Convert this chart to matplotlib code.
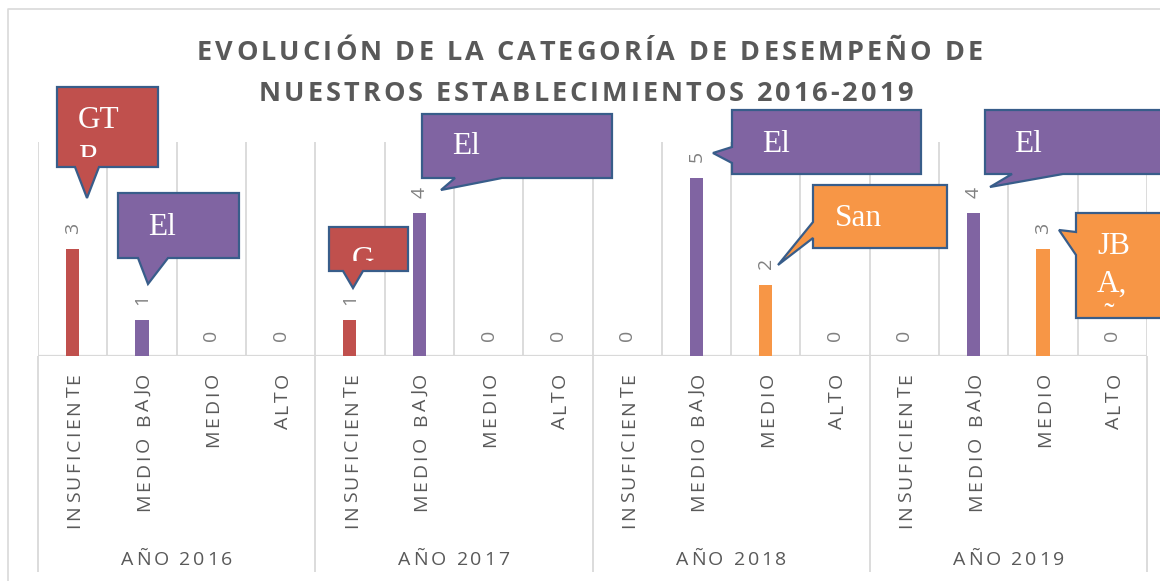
"""
Category chart of school performance levels per year, with callouts.

Writes:   out.png
"""

import matplotlib

matplotlib.use("Agg")
import matplotlib.pyplot as plt
import numpy as np
from matplotlib.font_manager import FontProperties, findfont, get_font
from matplotlib.patches import Polygon
from matplotlib.transforms import Bbox, IdentityTransform

W, H = 1160, 581

years = ["AÑO 2016", "AÑO 2017", "AÑO 2018", "AÑO 2019"]
levels = ["INSUFICIENTE", "MEDIO BAJO", "MEDIO", "ALTO"]
counts_2016 = [3, 1, 0, 0]
counts_2017 = [1, 4, 0, 0]
counts_2018 = [0, 5, 2, 0]
counts_2019 = [0, 4, 3, 0]
level_colors = ["#C0504D", "#8064A2", "#F79646", "#9BBB59"]

title_lines = ["EVOLUCIÓN DE LA CATEGORÍA DE DESEMPEÑO DE",
               "NUESTROS ESTABLECIMIENTOS 2016-2019"]

# callout texts (cut off by their boxes, as in the original)
callout_texts = ["GT\nR", "El", "G", "El", "El", "San", "El", "JB\nA,\nÑ"]
callout_colors = ["#C0504D", "#8064A2", "#C0504D", "#8064A2",
                  "#8064A2", "#F79646", "#8064A2", "#F79646"]
# geometry in image pixels (y down): box, wedge points, edge, first baseline
callout_boxes = [(57, 87, 158, 167), (118, 193, 239, 258), (329, 227, 408, 271),
                 (422, 114, 612, 178), (732, 110, 921, 174), (813, 185, 947, 248),
                 (985, 110, 1175, 174), (1076, 213, 1175, 318)]
callout_wedges = [[(99, 167), (87, 198), (75, 167)],
                  [(168, 258), (148, 284), (138, 258)],
                  [(363, 271), (353, 288), (343, 271)],
                  [(502, 178), (441, 190), (455, 178)],
                  [(732, 163), (713, 153), (732, 147)],
                  [(813, 238), (778, 265), (813, 222)],
                  [(1063, 174), (990, 187), (1012, 174)],
                  [(1076, 255), (1059, 230), (1076, 232)]]
callout_edges = ["bottom", "bottom", "bottom", "bottom", "left", "left", "bottom", "left"]
callout_text_xy = [(78, 128), (148, 235), (352, 268), (452, 154),
                   (762, 152), (835, 226), (1014, 152), (1097, 254)]

SANS = ["Open Sans", "DejaVu Sans"]
GRID = "#D9D9D9"
TEXT = "#595959"


def advances(s, size, weight="normal"):
    fp = FontProperties(family=SANS, size=size, weight=weight)
    font = get_font(findfont(fp))
    font.set_size(size, 100)
    return [font.load_char(ord(c)).linearHoriAdvance / 65536 for c in s]


def tracking_for(s, span, size, weight="normal"):
    return (span - sum(advances(s, size, weight))) / (len(s) - 1)


def tracked(fig, x, y, s, size, track, color, weight="normal", vertical=False):
    """Letter-spaced text. Horizontal: x is centre, y baseline (image px).
    Vertical: x is centre, y is the top end of the text (image px)."""
    adv = advances(s, size, weight)
    total = sum(adv) + track * (len(s) - 1)
    cap = 0.714 * size * 100 / 72
    pos = 0.0
    for c, a in zip(s, adv):
        if vertical:
            px, py = x + cap / 2, H - (y + total) + pos
            rot = 90
        else:
            px, py = x - total / 2 + pos, H - y
            rot = 0
        fig.text(px, py, c, transform=IdentityTransform(), rotation=rot,
                 rotation_mode="anchor", ha="left", va="baseline",
                 fontsize=size, fontweight=weight, color=color, family=SANS)
        pos += a + track


def main():
    values = np.array([counts_2016, counts_2017, counts_2018, counts_2019]).ravel()
    n = len(values)
    x = np.arange(n)
    colors = level_colors * len(years)

    fig = plt.figure(figsize=(W / 100, H / 100), dpi=100)
    # chart area border
    fig.add_artist(plt.Line2D([8, 8, W], [0, H - 9, H - 9], transform=IdentityTransform(),
                              color=GRID, lw=1.2))

    ax = fig.add_axes([38 / W, (H - 356) / H, (1147 - 38) / W, (356 - 142) / H])
    ax.set_xlim(-0.5, n - 0.5)
    ax.set_ylim(0, 6)
    ax.axis("off")

    ax.vlines(np.arange(n + 1) - 0.5, 0, 6, color=GRID, lw=1.3, zorder=1)
    ax.vlines(np.arange(0, n + 1, 4) - 0.5, -216 / 214, 0, color=GRID, lw=1.3,
              transform=ax.get_xaxis_transform(), clip_on=False)
    ax.axhline(0, color=GRID, lw=1.6, zorder=2)

    ax.bar(x, values, width=0.19, color=colors, zorder=3)
    for xi, v in zip(x, values):
        ax.annotate(str(v), (xi, v), xytext=(0, 11), textcoords="offset points",
                    rotation=90, ha="center", va="bottom", fontsize=14,
                    color="#808080", family=SANS)

    fig.canvas.draw()
    centers = ax.transData.transform(np.column_stack([x, np.zeros(n)]))[:, 0]

    # title
    for line, base in zip(title_lines, [60, 101]):
        span = 786 if base == 60 else 654
        cx = 590 if base == 60 else 586
        tr = tracking_for(line, span, 19.5, "bold")
        tracked(fig, cx, base, line, 19.5, tr, TEXT, weight="bold")

    # category labels
    tick_track = tracking_for(levels[0], 155, 14)
    for i, cx in enumerate(centers):
        tracked(fig, cx, 373, levels[i % 4], 14, tick_track, TEXT, vertical=True)

    # year labels
    year_track = tracking_for(years[0], 111, 14)
    for g, label in enumerate(years):
        gx = centers[g * 4: g * 4 + 4].mean()
        tracked(fig, gx, 565, label, 14, year_track, TEXT)

    # callouts
    for text, col, box, wedge, edge, (tx, ty) in zip(
            callout_texts, callout_colors, callout_boxes, callout_wedges,
            callout_edges, callout_text_xy):
        x0, y0, x1, y1 = box
        if edge == "bottom":
            pts = [(x0, y0), (x1, y0), (x1, y1), *wedge, (x0, y1)]
        else:
            pts = [(x0, y0), (x1, y0), (x1, y1), (x0, y1), *wedge]
        pts = [(px, H - py) for px, py in pts]
        fig.add_artist(Polygon(pts, closed=True, facecolor=col, edgecolor="#385D8A",
                               lw=1.6, transform=IdentityTransform(), zorder=5))
        clip = Bbox.from_extents(x0, H - (y1 - 10), x1, H - y0)
        for k, line in enumerate(text.split("\n")):
            t = fig.text(tx, H - (ty + 38 * k), line, transform=IdentityTransform(),
                         ha="left", va="baseline", fontsize=22.5, color="white",
                         family=["Liberation Serif", "DejaVu Serif"], zorder=6)
            t.set_clip_box(clip)
            t.set_clip_on(True)

    fig.savefig("out.png", dpi=100)


if __name__ == "__main__":
    main()
